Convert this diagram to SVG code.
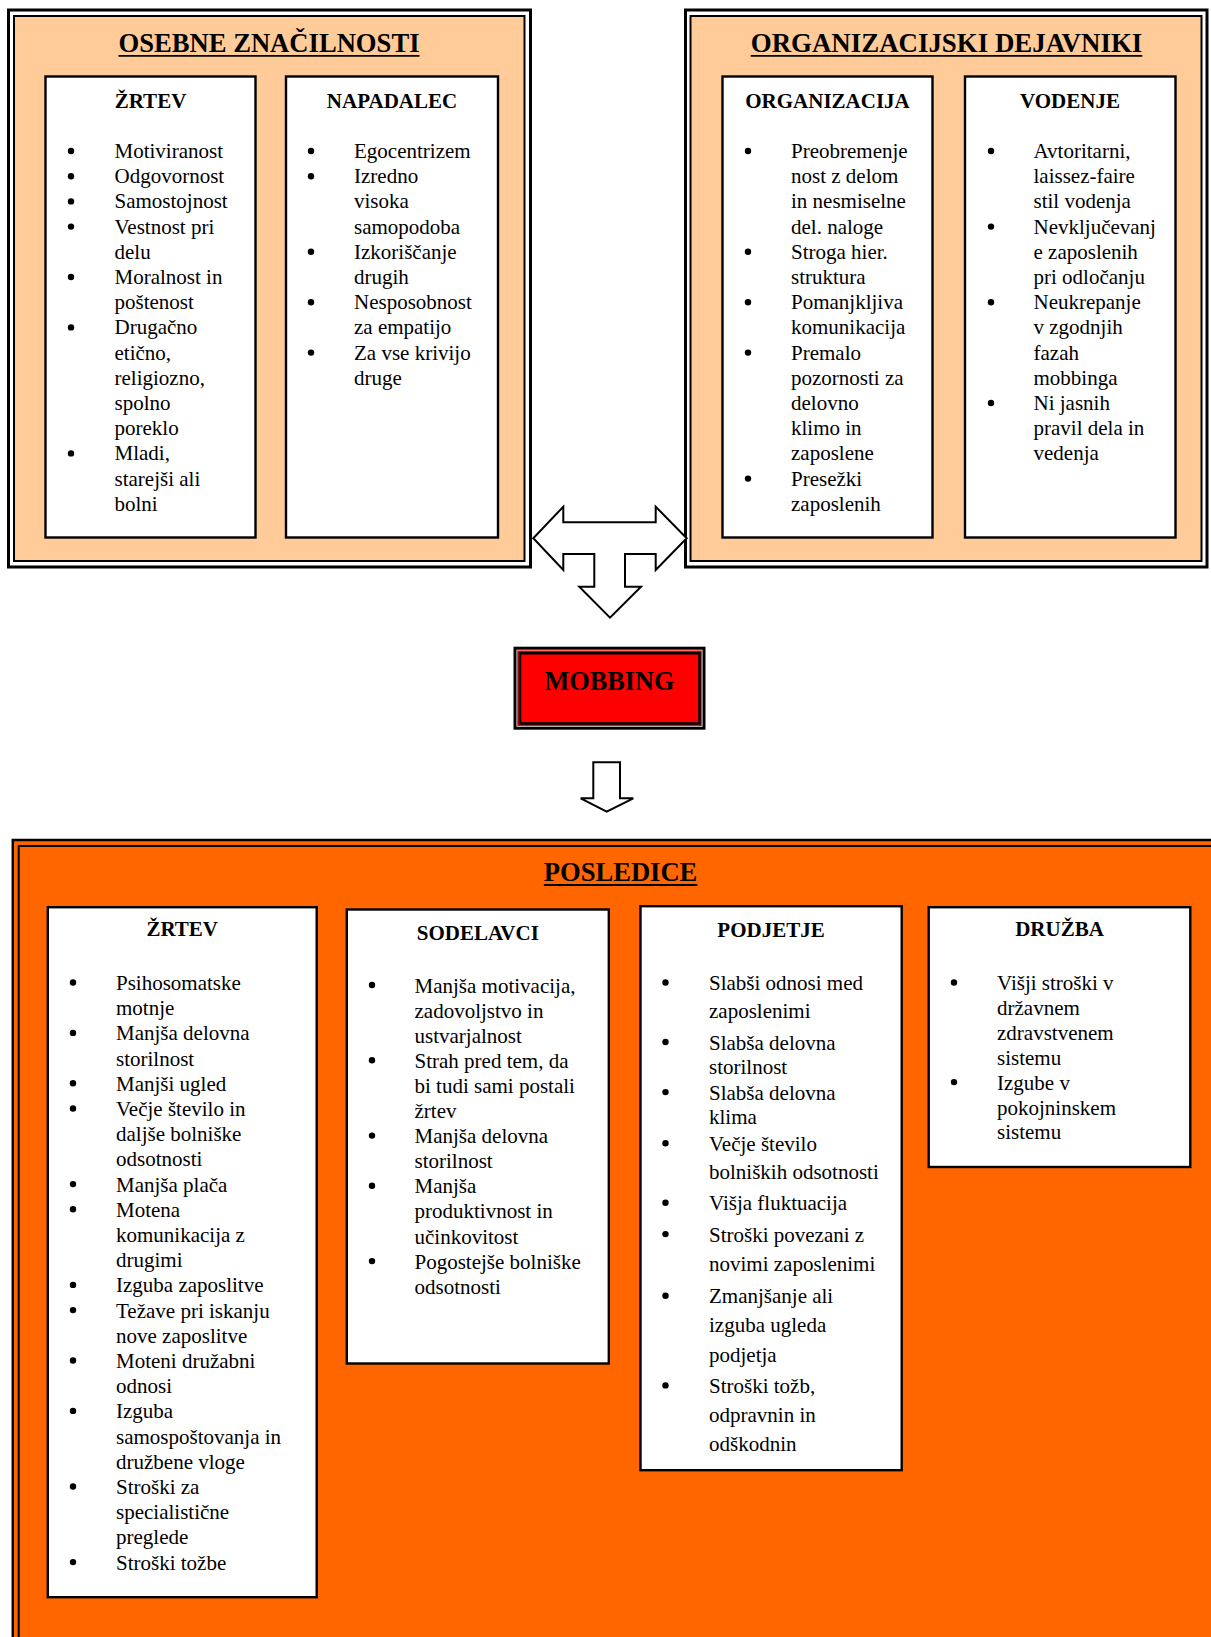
<svg xmlns="http://www.w3.org/2000/svg" width="1211" height="1637" viewBox="0 0 1211 1637">
<style>
.t{font-family:"Liberation Serif","Times New Roman",serif;font-size:21px;fill:#000}
.h{font-family:"Liberation Serif","Times New Roman",serif;font-size:21px;font-weight:bold;text-anchor:middle;fill:#000}
.ttl{font-family:"Liberation Serif","Times New Roman",serif;font-size:26.6px;font-weight:bold;text-anchor:middle;fill:#000}
.box{fill:#fff;stroke:#000;stroke-width:2.4}
.ul{stroke:#000;stroke-width:1.8}
.arr{fill:#fff;stroke:#000;stroke-width:2;stroke-linejoin:miter}
</style>
<rect width="1211" height="1637" fill="#fff"/>

<g id="osebne-znacilnosti">
<rect x="8.5" y="10" width="522" height="557" fill="#fff" stroke="#000" stroke-width="3"/>
<rect x="14" y="16" width="510.5" height="545" fill="#FFCC99" stroke="#000" stroke-width="2"/>
<text class="ttl" x="269" y="51.7" textLength="301" lengthAdjust="spacingAndGlyphs">OSEBNE ZNAČILNOSTI</text>
<line class="ul" x1="118.5" y1="55.8" x2="419.5" y2="55.8"/>
</g>

<g id="osebne-zrtev">
<rect class="box" x="45.5" y="76.5" width="210" height="461"/>
<text class="h" x="150.5" y="107.5">ŽRTEV</text>
<g fill="#000"><circle cx="71" cy="151" r="3.2"/><circle cx="71" cy="176.2" r="3.2"/><circle cx="71" cy="201.4" r="3.2"/><circle cx="71" cy="226.6" r="3.2"/><circle cx="71" cy="277" r="3.2"/><circle cx="71" cy="327.4" r="3.2"/><circle cx="71" cy="453.4" r="3.2"/></g>
<text class="t"><tspan x="114.5" y="158">Motiviranost</tspan><tspan x="114.5" y="183.2">Odgovornost</tspan><tspan x="114.5" y="208.4">Samostojnost</tspan><tspan x="114.5" y="233.6">Vestnost pri</tspan><tspan x="114.5" y="258.8">delu</tspan><tspan x="114.5" y="284">Moralnost in</tspan><tspan x="114.5" y="309.2">poštenost</tspan><tspan x="114.5" y="334.4">Drugačno</tspan><tspan x="114.5" y="359.6">etično,</tspan><tspan x="114.5" y="384.8">religiozno,</tspan><tspan x="114.5" y="410">spolno</tspan><tspan x="114.5" y="435.2">poreklo</tspan><tspan x="114.5" y="460.4">Mladi,</tspan><tspan x="114.5" y="485.6">starejši ali</tspan><tspan x="114.5" y="510.8">bolni</tspan></text>
</g>

<g id="osebne-napadalec">
<rect class="box" x="286" y="76.5" width="212" height="461"/>
<text class="h" x="392" y="107.5">NAPADALEC</text>
<g fill="#000"><circle cx="311" cy="151" r="3.2"/><circle cx="311" cy="176.2" r="3.2"/><circle cx="311" cy="251.8" r="3.2"/><circle cx="311" cy="302.2" r="3.2"/><circle cx="311" cy="352.6" r="3.2"/></g>
<text class="t"><tspan x="354" y="158">Egocentrizem</tspan><tspan x="354" y="183.2">Izredno</tspan><tspan x="354" y="208.4">visoka</tspan><tspan x="354" y="233.6">samopodoba</tspan><tspan x="354" y="258.8">Izkoriščanje</tspan><tspan x="354" y="284">drugih</tspan><tspan x="354" y="309.2">Nesposobnost</tspan><tspan x="354" y="334.4">za empatijo</tspan><tspan x="354" y="359.6">Za vse krivijo</tspan><tspan x="354" y="384.8">druge</tspan></text>
</g>

<g id="organizacijski-dejavniki">
<rect x="685.5" y="10" width="521.5" height="557" fill="#fff" stroke="#000" stroke-width="3"/>
<rect x="690.5" y="16" width="511" height="545" fill="#FFCC99" stroke="#000" stroke-width="2"/>
<text class="ttl" x="946.5" y="51.7" textLength="391.5" lengthAdjust="spacingAndGlyphs">ORGANIZACIJSKI DEJAVNIKI</text>
<line class="ul" x1="750.7" y1="55.8" x2="1142.3" y2="55.8"/>
</g>

<g id="organizacija">
<rect class="box" x="722.5" y="76.5" width="210" height="461"/>
<text class="h" x="827.5" y="107.5">ORGANIZACIJA</text>
<g fill="#000"><circle cx="748" cy="151" r="3.2"/><circle cx="748" cy="251.8" r="3.2"/><circle cx="748" cy="302.2" r="3.2"/><circle cx="748" cy="352.6" r="3.2"/><circle cx="748" cy="478.6" r="3.2"/></g>
<text class="t"><tspan x="791" y="158">Preobremenje</tspan><tspan x="791" y="183.2">nost z delom</tspan><tspan x="791" y="208.4">in nesmiselne</tspan><tspan x="791" y="233.6">del. naloge</tspan><tspan x="791" y="258.8">Stroga hier.</tspan><tspan x="791" y="284">struktura</tspan><tspan x="791" y="309.2">Pomanjkljiva</tspan><tspan x="791" y="334.4">komunikacija</tspan><tspan x="791" y="359.6">Premalo</tspan><tspan x="791" y="384.8">pozornosti za</tspan><tspan x="791" y="410">delovno</tspan><tspan x="791" y="435.2">klimo in</tspan><tspan x="791" y="460.4">zaposlene</tspan><tspan x="791" y="485.6">Presežki</tspan><tspan x="791" y="510.8">zaposlenih</tspan></text>
</g>

<g id="vodenje">
<rect class="box" x="965" y="76.5" width="210.5" height="461"/>
<text class="h" x="1070" y="107.5">VODENJE</text>
<g fill="#000"><circle cx="991" cy="151" r="3.2"/><circle cx="991" cy="226.6" r="3.2"/><circle cx="991" cy="302.2" r="3.2"/><circle cx="991" cy="403" r="3.2"/></g>
<text class="t"><tspan x="1033.5" y="158">Avtoritarni,</tspan><tspan x="1033.5" y="183.2">laissez-faire</tspan><tspan x="1033.5" y="208.4">stil vodenja</tspan><tspan x="1033.5" y="233.6">Nevključevanj</tspan><tspan x="1033.5" y="258.8">e zaposlenih</tspan><tspan x="1033.5" y="284">pri odločanju</tspan><tspan x="1033.5" y="309.2">Neukrepanje</tspan><tspan x="1033.5" y="334.4">v zgodnjih</tspan><tspan x="1033.5" y="359.6">fazah</tspan><tspan x="1033.5" y="384.8">mobbinga</tspan><tspan x="1033.5" y="410">Ni jasnih</tspan><tspan x="1033.5" y="435.2">pravil dela in</tspan><tspan x="1033.5" y="460.4">vedenja</tspan></text>
</g>

<g id="mobbing">
<rect x="515" y="648.2" width="189" height="80" fill="#fff" stroke="#000" stroke-width="3"/>
<rect x="517.2" y="650.4" width="184.6" height="75.6" fill="#FF0000"/>
<rect x="520" y="653.2" width="179.5" height="70.3" fill="#FF0000" stroke="#000" stroke-width="2.6"/>
<text x="609.5" y="690" font-family="Liberation Serif, Times New Roman, serif" font-size="27" font-weight="bold" text-anchor="middle" textLength="130" lengthAdjust="spacingAndGlyphs">MOBBING</text>
</g>

<g id="connectors">
<path class="arr" d="M533.3,538.3 L563.3,506.7 L563.3,522.3 L655.7,522.3 L655.7,506.7 L686.7,538.3 L655.7,570 L655.7,554 L625,554 L625,586.7 L641,586.7 L610,617.7 L579.3,586.7 L594.3,586.7 L594.3,554 L563.3,554 L563.3,570 Z"/>
<path class="arr" d="M593.3,762.3 H620 V798.3 H633.3 L606.7,811.7 L580.7,798.3 H593.3 Z"/>
</g>

<g id="posledice">
<rect x="12.8" y="840" width="1260" height="860" fill="#FF6600" stroke="#000" stroke-width="2.5"/>
<rect x="18.7" y="846" width="1250" height="850" fill="none" stroke="#000" stroke-width="2"/>
<text class="ttl" x="620.6" y="880.5" textLength="153.5" lengthAdjust="spacingAndGlyphs">POSLEDICE</text>
<line class="ul" x1="543.9" y1="885" x2="697.4" y2="885"/>
</g>

<g id="posledice-zrtev">
<rect class="box" x="47.8" y="907.2" width="268.9" height="690"/>
<text class="h" x="182.2" y="935.5">ŽRTEV</text>
<g fill="#000"><circle cx="73" cy="982.5" r="3.2"/><circle cx="73" cy="1032.9" r="3.2"/><circle cx="73" cy="1083.3" r="3.2"/><circle cx="73" cy="1108.5" r="3.2"/><circle cx="73" cy="1184.1" r="3.2"/><circle cx="73" cy="1209.3" r="3.2"/><circle cx="73" cy="1284.9" r="3.2"/><circle cx="73" cy="1310.1" r="3.2"/><circle cx="73" cy="1360.5" r="3.2"/><circle cx="73" cy="1410.9" r="3.2"/><circle cx="73" cy="1486.5" r="3.2"/><circle cx="73" cy="1562.1" r="3.2"/></g>
<text class="t"><tspan x="116" y="990">Psihosomatske</tspan><tspan x="116" y="1015.2">motnje</tspan><tspan x="116" y="1040.4">Manjša delovna</tspan><tspan x="116" y="1065.6">storilnost</tspan><tspan x="116" y="1090.8">Manjši ugled</tspan><tspan x="116" y="1116">Večje število in</tspan><tspan x="116" y="1141.2">daljše bolniške</tspan><tspan x="116" y="1166.4">odsotnosti</tspan><tspan x="116" y="1191.6">Manjša plača</tspan><tspan x="116" y="1216.8">Motena</tspan><tspan x="116" y="1242">komunikacija z</tspan><tspan x="116" y="1267.2">drugimi</tspan><tspan x="116" y="1292.4">Izguba zaposlitve</tspan><tspan x="116" y="1317.6">Težave pri iskanju</tspan><tspan x="116" y="1342.8">nove zaposlitve</tspan><tspan x="116" y="1368">Moteni družabni</tspan><tspan x="116" y="1393.2">odnosi</tspan><tspan x="116" y="1418.4">Izguba</tspan><tspan x="116" y="1443.6">samospoštovanja in</tspan><tspan x="116" y="1468.8">družbene vloge</tspan><tspan x="116" y="1494">Stroški za</tspan><tspan x="116" y="1519.2">specialistične</tspan><tspan x="116" y="1544.4">preglede</tspan><tspan x="116" y="1569.6">Stroški tožbe</tspan></text>
</g>

<g id="sodelavci">
<rect class="box" x="346.8" y="909.5" width="262" height="454"/>
<text class="h" x="477.8" y="940">SODELAVCI</text>
<g fill="#000"><circle cx="372" cy="985" r="3.2"/><circle cx="372" cy="1060.3" r="3.2"/><circle cx="372" cy="1135.6" r="3.2"/><circle cx="372" cy="1185.8" r="3.2"/><circle cx="372" cy="1261.1" r="3.2"/></g>
<text class="t"><tspan x="414.5" y="992.5">Manjša motivacija,</tspan><tspan x="414.5" y="1017.6">zadovoljstvo in</tspan><tspan x="414.5" y="1042.7">ustvarjalnost</tspan><tspan x="414.5" y="1067.8">Strah pred tem, da</tspan><tspan x="414.5" y="1092.9">bi tudi sami postali</tspan><tspan x="414.5" y="1118">žrtev</tspan><tspan x="414.5" y="1143.1">Manjša delovna</tspan><tspan x="414.5" y="1168.2">storilnost</tspan><tspan x="414.5" y="1193.3">Manjša</tspan><tspan x="414.5" y="1218.4">produktivnost in</tspan><tspan x="414.5" y="1243.5">učinkovitost</tspan><tspan x="414.5" y="1268.6">Pogostejše bolniške</tspan><tspan x="414.5" y="1293.7">odsotnosti</tspan></text>
</g>

<g id="podjetje">
<rect class="box" x="640.5" y="906.2" width="261.2" height="564"/>
<text class="h" x="771" y="936.5">PODJETJE</text>
<g fill="#000"><circle cx="665.5" cy="982.5" r="3.2"/><circle cx="665.5" cy="1042" r="3.2"/><circle cx="665.5" cy="1092.1" r="3.2"/><circle cx="665.5" cy="1143.2" r="3.2"/><circle cx="665.5" cy="1202.7" r="3.2"/><circle cx="665.5" cy="1234.1" r="3.2"/><circle cx="665.5" cy="1295.7" r="3.2"/><circle cx="665.5" cy="1385.4" r="3.2"/></g>
<text class="t"><tspan x="709" y="990">Slabši odnosi med</tspan><tspan x="709" y="1018.1">zaposlenimi</tspan><tspan x="709" y="1049.5">Slabša delovna</tspan><tspan x="709" y="1073.5">storilnost</tspan><tspan x="709" y="1099.6">Slabša delovna</tspan><tspan x="709" y="1123.6">klima</tspan><tspan x="709" y="1150.7">Večje število</tspan><tspan x="709" y="1178.9">bolniških odsotnosti</tspan><tspan x="709" y="1210.2">Višja fluktuacija</tspan><tspan x="709" y="1241.6">Stroški povezani z</tspan><tspan x="709" y="1270.8">novimi zaposlenimi</tspan><tspan x="709" y="1303.2">Zmanjšanje ali</tspan><tspan x="709" y="1332.4">izguba ugleda</tspan><tspan x="709" y="1361.6">podjetja</tspan><tspan x="709" y="1392.9">Stroški tožb,</tspan><tspan x="709" y="1422.2">odpravnin in</tspan><tspan x="709" y="1451.4">odškodnin</tspan></text>
</g>

<g id="druzba">
<rect class="box" x="928.7" y="907.2" width="261.6" height="259.8"/>
<text class="h" x="1059.5" y="936">DRUŽBA</text>
<g fill="#000"><circle cx="954" cy="982.5" r="3.2"/><circle cx="954" cy="1082.1" r="3.2"/></g>
<text class="t"><tspan x="997" y="990">Višji stroški v</tspan><tspan x="997" y="1014.9">državnem</tspan><tspan x="997" y="1039.8">zdravstvenem</tspan><tspan x="997" y="1064.7">sistemu</tspan><tspan x="997" y="1089.6">Izgube v</tspan><tspan x="997" y="1114.5">pokojninskem</tspan><tspan x="997" y="1139.4">sistemu</tspan></text>
</g>
</svg>
